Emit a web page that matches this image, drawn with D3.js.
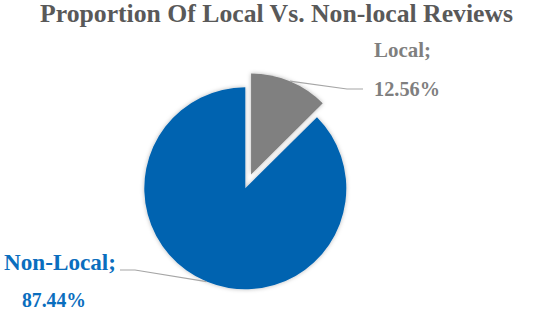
<!DOCTYPE html>
<html>
<head>
<meta charset="utf-8">
<script src="https://cdn.jsdelivr.net/npm/d3@7"></script>
<style>
  html, body { margin: 0; padding: 0; background: #fff; }
  svg { display: block; }
  text { font-family: "Liberation Serif", "Times New Roman", serif; font-weight: bold; }
</style>
</head>
<body>
<svg id="chart" width="550" height="313"></svg>
<script>
// ---- data ----
const categories = ["Local", "Non-Local"];
const values = [12.56, 87.44];
const colors = ["#808080", "#0563B0"];
const labelColors = ["#7F7F7F", "#0A6EBE"];
const title = "Proportion Of Local Vs. Non-local Reviews";

// ---- layout ----
const W = 550, H = 313;
const cx = 245.3, cy = 188.3, R = 101;
const explode = [15, 0];

const svg = d3.select("#chart");

const defs = svg.append("defs");
const f = defs.append("filter").attr("id", "shadow")
  .attr("x", "-20%").attr("y", "-20%").attr("width", "140%").attr("height", "140%");
f.append("feDropShadow").attr("dx", 0).attr("dy", 0).attr("stdDeviation", 2)
  .attr("flood-color", "#000").attr("flood-opacity", 0.28);

svg.append("text")
  .attr("x", 276.5).attr("y", 22)
  .attr("text-anchor", "middle")
  .attr("font-size", 25.5)
  .attr("fill", "#595959")
  .attr("textLength", 473).attr("lengthAdjust", "spacingAndGlyphs")
  .text(title);

const data = categories.map((c, i) => ({ cat: c, value: values[i], i }));
const pie = d3.pie().sort(null).value(d => d.value).startAngle(0).endAngle(2 * Math.PI);
const arcs = pie(data);
const arc = d3.arc().innerRadius(0).outerRadius(R);

const g = svg.append("g").attr("transform", `translate(${cx},${cy})`);

function offset(a, d) {
  const mid = (a.startAngle + a.endAngle) / 2;
  return [d * Math.sin(mid), -d * Math.cos(mid)];
}

g.selectAll("path.slice").data(arcs).enter().append("path")
  .attr("class", "slice")
  .attr("d", arc)
  .attr("fill", d => colors[d.data.i])
  .attr("filter", "url(#shadow)")
  .attr("transform", d => {
    const [dx, dy] = offset(d, explode[d.data.i]);
    return `translate(${dx},${dy})`;
  });

// leader lines: start at outer edge of slice bisector
const elbows = [
  [[347 - cx, 89 - cy], [363 - cx, 89 - cy]],
  [[135 - cx, 270 - cy], [120 - cx, 270 - cy]]
];
arcs.forEach(a => {
  const i = a.data.i;
  const [ox, oy] = offset(a, explode[i]);
  const [sx, sy] = offset(a, R);
  const pts = [[ox + sx, oy + sy], ...elbows[i]];
  g.append("path")
    .attr("d", d3.line()(pts))
    .attr("fill", "none")
    .attr("stroke", "#A6A6A6")
    .attr("stroke-width", 1.2);
});

// labels
const labelPos = [
  { x1: 374, y1: 57, w1: 57, fs1: 21.5, x2: 374, y2: 96, w2: 66, fs2: 21.5 },
  { x1: 4, y1: 270, w1: 112, fs1: 24, x2: 22, y2: 307, w2: 64, fs2: 21.5 }
];
arcs.forEach(a => {
  const i = a.data.i;
  const p = labelPos[i];
  svg.append("text")
    .attr("x", p.x1).attr("y", p.y1)
    .attr("font-size", p.fs1)
    .attr("fill", labelColors[i])
    .attr("textLength", p.w1).attr("lengthAdjust", "spacingAndGlyphs")
    .text(a.data.cat + ";");
  svg.append("text")
    .attr("x", p.x2).attr("y", p.y2)
    .attr("font-size", p.fs2)
    .attr("fill", labelColors[i])
    .attr("textLength", p.w2).attr("lengthAdjust", "spacingAndGlyphs")
    .text(a.data.value.toFixed(2) + "%");
});
</script>
</body>
</html>
